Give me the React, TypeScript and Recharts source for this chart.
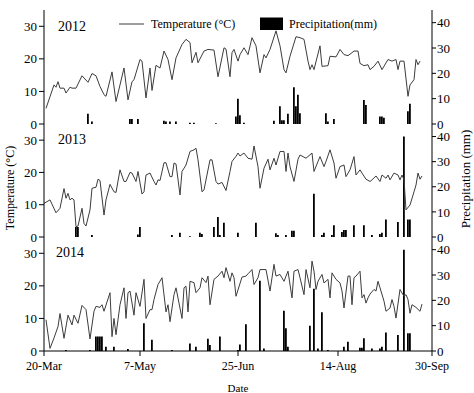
import React from 'react';
import { ComposedChart, Line, Bar, XAxis, YAxis } from 'recharts';

const xTickDays = [0, 48, 97, 147, 194];
const xTickLabels = ['20-Mar', '7-May', '25-Jun', '14-Aug', '30-Sep'];
const xMinorDays = [24, 72.5, 122, 170.5];
const tempTicks = [0, 10, 20, 30];
const precipTicks = [0, 10, 20, 30, 40];
const years = ['2012', '2013', '2014'];

const temp2012: [number, number][] = [
  [1, 4.8], [5, 12], [6, 11.3], [7, 13], [8, 11], [10, 11], [11, 9.5], [13, 11.3], [14, 11], [16, 11],
  [19, 14.8], [22, 12.8], [24, 15.5], [26, 14.8], [28, 11.5], [30, 9], [31, 8.5], [34, 16], [36, 6.9],
  [38, 12], [40, 17.2], [42, 7.4], [44, 13], [45, 13.6], [48, 19.8], [49, 19.3], [51, 8], [53, 17.2],
  [54, 10.3], [56, 18], [58, 17.2], [60, 22.4], [62, 19.8], [64, 13.6], [66, 20.3], [69, 24.4], [71, 26],
  [73, 25], [74, 18.8], [76, 22], [77, 18.8], [80, 22.4], [82, 22.9], [85, 22.7], [87, 14.5], [90, 23.4],
  [91, 23], [93, 14.5], [94, 21.9], [95, 22.9], [97, 19.3], [98, 21.3], [100, 23.4], [102, 21.3], [104, 26.5],
  [106, 24], [108, 15.7], [110, 21.3], [111, 20.3], [113, 22.9], [116, 28.6], [118, 24], [120, 16.7],
  [121, 15.7], [123, 20.8], [126, 26.8], [128, 26.5], [130, 26], [132, 19.3], [133, 16.7], [134, 18.2],
  [135, 16.7], [138, 24], [139, 17.7], [142, 17.9], [143, 20.8], [146, 20.6], [148, 22.9], [150, 21.3],
  [152, 21], [154, 21.9], [155, 22.4], [157, 22.4], [158, 18.6], [160, 17.9], [162, 18.2], [163, 16.7],
  [165, 17.7], [167, 19.3], [169, 16.7], [172, 19.8], [174, 19.3], [176, 19.8], [177, 16.7], [178, 19.3],
  [180, 19.3], [182, 8.5], [183, 12], [185, 13.6], [186, 19.8], [187, 18.2], [188, 19.3],
];
const precip2012: [number, number][] = [
  [22, 4], [24, 1], [43, 2], [44, 2], [47, 2], [60, 1.3], [61, 1], [63, 1], [66, 1], [73, 0.5], [75, 0.5],
  [86, 0.3], [96, 3], [97, 10], [98, 3.5], [100, 0.5], [115, 1.3], [118, 7], [119, 1.5], [120, 1.5],
  [122, 4], [125, 14.5], [126, 7], [127, 11.5], [128, 4.2], [141, 4.2], [142, 1], [145, 2], [160, 9.5],
  [161, 7.5], [168, 3], [169, 3], [170, 2.5], [182, 5], [183, 8],
];

const temp2013: [number, number][] = [
  [0, 10.4], [3, 11.5], [6, 7.5], [8, 8.9], [10, 15], [11, 12], [12, 13.5], [13, 11.5], [14, 12], [15, 11.5],
  [16, 3.2], [17, 3.4], [19, 8.9], [20, 4.2], [21, 3.4], [23, 8.4], [24, 15.1], [26, 15.4], [27, 17.9],
  [28, 17.5], [30, 6.8], [31, 11.5], [33, 16.3], [35, 14], [36, 13.8], [38, 20.8], [40, 17.2], [41, 17.2],
  [43, 20], [44, 19.8], [46, 17.2], [47, 20.3], [49, 13.3], [50, 14], [51, 19.2], [53, 19.8], [55, 17.2],
  [56, 16.1], [57, 17.7], [58, 17.5], [60, 23], [61, 23], [63, 18.7], [64, 18.7], [65, 22.9], [66, 22.6],
  [68, 13], [69, 20.3], [71, 22.3], [73, 26.5], [75, 27], [76, 27.5], [77, 23.9], [79, 14], [80, 14.6],
  [83, 23.9], [84, 23.9], [86, 17.2], [87, 16.4], [89, 16.9], [91, 14.4], [93, 20.3], [94, 23.4], [96, 25],
  [97, 26], [98, 25.1], [100, 26], [102, 24.4], [104, 24.1], [105, 28.2], [107, 21.8], [108, 15.1],
  [110, 21.3], [112, 24.1], [113, 20.8], [115, 24.4], [116, 22.3], [118, 26.5], [120, 26.5], [121, 20.3],
  [122, 26], [123, 21.8], [125, 17.2], [127, 24.1], [128, 25.4], [131, 24.4], [134, 26], [135, 20.3],
  [137, 23.4], [138, 24.9], [140, 21.8], [141, 23.4], [143, 27], [145, 22.9], [146, 18.2], [148, 21.8],
  [150, 22.3], [151, 18.7], [153, 20.8], [155, 24.9], [156, 19.2], [158, 20.8], [159, 19.8], [161, 17.9],
  [163, 17.2], [164, 17.7], [166, 18.9], [168, 17.2], [169, 19.2], [171, 18.2], [172, 19.2], [173, 17.7],
  [175, 19.8], [177, 19.2], [178, 17.7], [179, 19.2], [180, 17.7], [181, 8.4], [183, 9.9], [185, 14],
  [186, 16.1], [187, 19.8], [188, 17.9], [189, 18.9],
];
const precip2013: [number, number][] = [
  [16, 4], [17, 4], [24, 0.8], [47, 1], [48, 4], [64, 0.8], [68, 1.7], [73, 0.3], [78, 1.7], [79, 1.2],
  [85, 4], [87, 8], [88, 0.8], [90, 5.7], [97, 1.7], [106, 5.7], [116, 1.5], [117, 0.8], [121, 0.8],
  [124, 2.5], [125, 2.5], [135, 17.2], [139, 0.8], [140, 1.7], [144, 0.8], [145, 4.7], [149, 2], [150, 2.8],
  [151, 2.8], [155, 4.7], [160, 4.7], [164, 0.8], [168, 1.2], [169, 1.7], [171, 7], [177, 6], [180, 40],
  [182, 7], [183, 7],
];

const temp2014: [number, number][] = [
  [1, 9.6], [3, 0.8], [5, 4], [7, 7.5], [8, 11.5], [10, 3.9], [12, 11], [14, 8], [15, 11], [17, 8.5],
  [19, 14], [21, 12.7], [23, 3.7], [25, 12.2], [26, 13.7], [28, 13.4], [29, 14.2], [30, 12.2], [33, 17.9],
  [34, 4.4], [35, 10], [36, 5], [38, 14.2], [40, 19.4], [41, 10], [42, 17.9], [43, 18.4], [45, 11],
  [46, 17.9], [48, 13.7], [50, 22], [51, 10], [53, 12.7], [54, 12.7], [55, 15.8], [57, 20.4], [59, 22.5],
  [61, 12], [62, 14.2], [63, 9], [65, 17.3], [66, 19.4], [69, 10], [70, 19.4], [71, 19.9], [72, 12],
  [73, 21.4], [75, 21], [76, 17.9], [78, 19.4], [79, 22.5], [81, 21], [82, 23], [83, 14.2], [85, 22],
  [87, 23], [89, 24.5], [90, 22.5], [91, 25.6], [93, 21.4], [94, 24], [95, 22.5], [96, 16.8], [99, 22.7],
  [101, 23], [102, 23.7], [104, 25], [105, 20.4], [107, 22.5], [108, 25], [111, 25], [113, 18.4],
  [115, 26.6], [116, 23], [118, 23.5], [120, 21.4], [122, 24.5], [124, 16.3], [125, 24.5], [127, 25],
  [128, 22.5], [130, 17.3], [131, 25], [133, 19.4], [134, 27.6], [135, 24.5], [136, 18.9], [137, 21.4],
  [139, 23.5], [140, 20.9], [142, 22], [143, 16.3], [144, 24], [146, 22], [148, 20.9], [149, 18.4],
  [150, 13.2], [152, 23], [153, 23], [154, 14.2], [155, 22.5], [156, 23], [158, 24.5], [159, 16.3],
  [160, 17.3], [161, 14.7], [162, 16.3], [163, 17.5], [165, 18.9], [166, 18.4], [167, 21.4], [168, 19.4],
  [170, 15.3], [171, 12.2], [173, 13.2], [174, 15.8], [175, 13.7], [176, 10.1], [178, 18.9], [179, 17.8],
  [180, 16.8], [181, 17.3], [182, 15.8], [183, 11.6], [184, 14.2], [186, 13.4], [188, 12.2], [189, 14.4],
];
const precip2014: [number, number][] = [
  [11, 0.4], [23, 0.4], [26, 5.7], [27, 5.7], [28, 5.7], [29, 5.7], [31, 1.7], [35, 1.7], [42, 0.8],
  [50, 11], [54, 4.4], [64, 0.4], [73, 3], [76, 1.7], [82, 4.8], [83, 2.4], [88, 5.7], [97, 0.4], [98, 2.6],
  [101, 10.6], [108, 27.7], [110, 1], [120, 15.9], [121, 9], [122, 1.7], [133, 10], [135, 24.6], [137, 1],
  [139, 15.3], [142, 0.4], [150, 1.7], [152, 3.7], [158, 1.3], [159, 1.3], [160, 5], [164, 1], [168, 1],
  [169, 1.7], [171, 7.3], [177, 6.3], [180, 40], [182, 7], [183, 7],
];

type Row = { day: number; temp: number | null; precip: number | null };

function buildRows(temp: [number, number][], precip: [number, number][]): Row[] {
  const map = new Map<number, Row>();
  for (const [d, t] of temp) map.set(d, { day: d, temp: t, precip: null });
  for (const [d, p] of precip) {
    const r = map.get(d) ?? { day: d, temp: null, precip: null };
    r.precip = p;
    map.set(d, r);
  }
  return Array.from(map.values()).sort((a, b) => a.day - b.day);
}

const FONT = '"Liberation Serif", "Times New Roman", serif';
const tickStyle = { fontFamily: FONT, fontSize: 13, fill: '#000' };

type PanelProps = {
  rows: Row[];
  top: number;
  height: number;
  margin: { top: number; bottom: number };
  showTop?: boolean;
  showBottom?: boolean;
};

function Panel({ rows, top, height, margin, showTop, showBottom }: PanelProps) {
  return (
    <div style={{ position: 'absolute', left: 0, top }}>
      <ComposedChart width={474} height={height} data={rows}
        margin={{ top: margin.top, right: 0, bottom: margin.bottom, left: 0 }}>
        {showBottom ? (
          <XAxis xAxisId="b" dataKey="day" type="number" domain={[0, 194]} ticks={xTickDays}
            allowDataOverflow interval={0} height={42}
            tickFormatter={(v: number) => xTickLabels[xTickDays.indexOf(v)] ?? ''}
            tick={{ fontFamily: FONT, fontSize: 12, fill: '#000' }}
            tickSize={5} tickMargin={5} stroke="#000"
            label={{ value: 'Date', position: 'insideBottom', offset: 1, style: { fontFamily: FONT, fontSize: 11, fill: '#000' } }} />
        ) : (
          <XAxis xAxisId="b" dataKey="day" type="number" domain={[0, 194]} ticks={xTickDays}
            allowDataOverflow height={0} tick={false} tickLine={false} stroke="#000" />
        )}
        {showTop && (
          <XAxis xAxisId="t" orientation="top" type="number" domain={[0, 194]}
            ticks={[...xTickDays, ...xMinorDays].sort((a, b) => a - b)} interval={0}
            allowDataOverflow mirror height={0} tick={false} tickSize={4} stroke="#000" />
        )}
        <YAxis yAxisId="l" orientation="left" width={44} domain={[0, 35]} ticks={tempTicks}
          interval={0} allowDataOverflow tick={tickStyle} tickSize={5} tickMargin={2} stroke="#000" />
        <YAxis yAxisId="r" orientation="right" width={42} domain={[0, 45]} ticks={precipTicks}
          interval={0} allowDataOverflow tick={tickStyle} tickSize={4} tickMargin={1} stroke="#000" />
        <Bar xAxisId="b" yAxisId="r" dataKey="precip" fill="#000" barSize={2} isAnimationActive={false} />
        <Line xAxisId="b" yAxisId="l" dataKey="temp" type="linear" stroke="#3c3c3c" strokeWidth={1}
          dot={false} connectNulls isAnimationActive={false} />
      </ComposedChart>
    </div>
  );
}

export default function App() {
  const rows2012 = buildRows(temp2012, precip2012);
  const rows2013 = buildRows(temp2013, precip2013);
  const rows2014 = buildRows(temp2014, precip2014);
  return (
    <div style={{ position: 'absolute', left: 0, top: 0, width: 474, height: 393, background: '#fff', fontFamily: FONT }}>
      <Panel rows={rows2012} top={0} height={134} margin={{ top: 10, bottom: 10 }} showTop />
      <Panel rows={rows2013} top={122} height={125} margin={{ top: 2, bottom: 10 }} />
      <Panel rows={rows2014} top={235} height={158} margin={{ top: 2, bottom: 0 }} showBottom />
      <svg width={474} height={393} style={{ position: 'absolute', left: 0, top: 0, pointerEvents: 'none' }}>
        <g fontFamily={FONT} fill="#000">
          <text x={58} y={30.5} fontSize={14}>{years[0]}</text>
          <text x={58} y={144} fontSize={14}>{years[1]}</text>
          <text x={56} y={257} fontSize={14}>{years[2]}</text>
          <line x1={119} y1={24} x2={144} y2={24} stroke="#3c3c3c" strokeWidth={1} />
          <text x={151} y={28} fontSize={12}>Temperature (°C)</text>
          <rect x={260} y={17.5} width={23} height={12.5} fill="#000" />
          <text x={289} y={28} fontSize={12}>Precipitation(mm)</text>
          <text transform="translate(14,188) rotate(-90)" textAnchor="middle" fontSize={12}>Temperature (°C)</text>
          <text transform="translate(470,179) rotate(-90)" textAnchor="middle" fontSize={13}>Precipitation (mm)</text>
        </g>
      </svg>
    </div>
  );
}
